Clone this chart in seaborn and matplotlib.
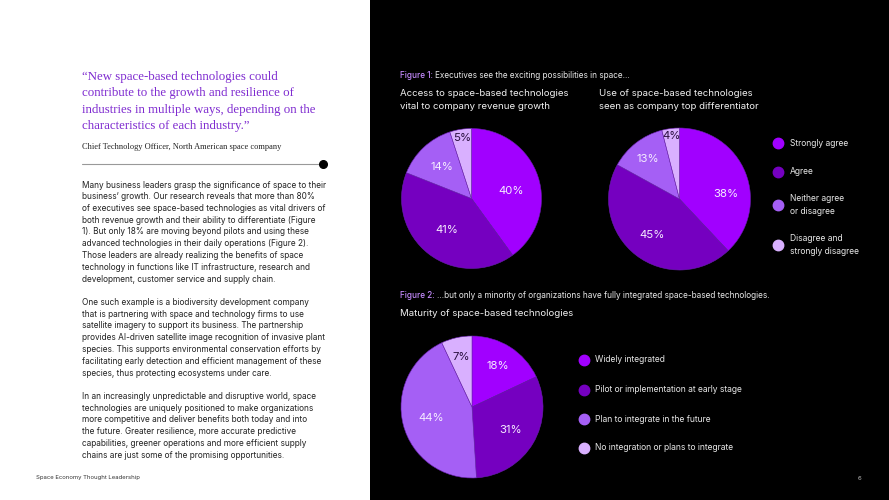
import matplotlib
matplotlib.use("Agg")
import matplotlib.pyplot as plt
import seaborn as sns
import numpy as np

# ---------------- data ----------------
fig1_categories = ["Strongly agree", "Agree", "Neither agree\nor disagree",
                   "Disagree and\nstrongly disagree"]
revenue_values = [40, 41, 14, 5]
differentiator_values = [38, 45, 13, 4]

fig2_categories = ["Widely integrated", "Pilot or implementation at early stage",
                   "Plan to integrate in the future",
                   "No integration or plans to integrate"]
maturity_values = [18, 31, 44, 7]

quote_lines = ["\u201cNew space-based technologies could",
               "contribute to the growth and resilience of",
               "industries in multiple ways, depending on the",
               "characteristics of each industry.\u201d"]
quote_author = "Chief Technology Officer, North American space company"

body_paragraphs = [
    ["Many business leaders grasp the significance of space to their",
     "business\u2019 growth. Our research reveals that more than 80%",
     "of executives see space-based technologies as vital drivers of",
     "both revenue growth and their ability to differentiate (Figure",
     "1). But only 18% are moving beyond pilots and using these",
     "advanced technologies in their daily operations (Figure 2).",
     "Those leaders are already realizing the benefits of space",
     "technology in functions like IT infrastructure, research and",
     "development, customer service and supply chain."],
    ["One such example is a biodiversity development company",
     "that is partnering with space and technology firms to use",
     "satellite imagery to support its business. The partnership",
     "provides AI-driven satellite image recognition of invasive plant",
     "species. This supports environmental conservation efforts by",
     "facilitating early detection and efficient management of these",
     "species, thus protecting ecosystems under care."],
    ["In an increasingly unpredictable and disruptive world, space",
     "technologies are uniquely positioned to make organizations",
     "more competitive and deliver benefits both today and into",
     "the future. Greater resilience, more accurate predictive",
     "capabilities, greener operations and more efficient supply",
     "chains are just some of the promising opportunities."],
]

# ---------------- style ----------------
sns.set_theme(style="white")
plt.rcParams["font.family"] = ["Inter", "DejaVu Sans"]
palette = sns.color_palette(["#A100FF", "#7500C0", "#A55FF5", "#D9B0FF"])

W, H = 889, 500
fig = plt.figure(figsize=(W / 100, H / 100), dpi=100)
fig.patch.set_facecolor("white")
renderer = fig.canvas.get_renderer()


def fx(x):
    return x / W


def fy(y):
    return 1 - y / H


# black right panel
bg = fig.add_axes([fx(370), 0, 1 - fx(370), 1])
bg.set_facecolor("black")
bg.set_xticks([]); bg.set_yticks([])
for s in bg.spines.values():
    s.set_visible(False)

# ---------------- left column ----------------
serif = ["Liberation Serif", "DejaVu Serif"]
for i, line in enumerate(quote_lines):
    fig.text(fx(82), fy(77 + i * 16.4), line, fontsize=9.3, color="#7F2BD0",
             family=serif, va="center", ha="left")
fig.text(fx(82), fy(147), quote_author, fontsize=6.0, color="#222222",
         family=serif, va="center", ha="left")
fig.add_artist(plt.Line2D([fx(82), fx(323)], [fy(164), fy(164)],
                          color="#999999", lw=0.8, transform=fig.transFigure))
fig.add_artist(plt.Line2D([fx(323)], [fy(164)], marker="o", markersize=5.5,
                          color="black", transform=fig.transFigure))

y = 185
for para in body_paragraphs:
    for line in para:
        fig.text(fx(82), fy(y), line, fontsize=5.95, color="#222222",
                 va="center", ha="left")
        y += 11.75
    y += 11.75

fig.text(fx(36), fy(478), "Space Economy Thought Leadership", fontsize=4.3,
         color="#333333", va="center", ha="left")
fig.text(fx(858), fy(478), "6", fontsize=4.3, color="#bbbbbb",
         va="center", ha="left")


# ---------------- right column texts ----------------
def caption(x0, y0, label, rest):
    t = fig.text(fx(x0), fy(y0), label, fontsize=5.9, color="#C58BFF",
                 va="center", ha="left", weight="medium")
    bb = t.get_window_extent(renderer=renderer)
    fig.text(bb.x1 / W + 2.5 / W, fy(y0), rest, fontsize=5.9,
             color="#e8e8e8", va="center", ha="left")


caption(400, 75, "Figure 1:", "Executives see the exciting possibilities in space...")
for x0, lines in [(400, ["Access to space-based technologies",
                         "vital to company revenue growth"]),
                  (599, ["Use of space-based technologies",
                         "seen as company top differentiator"])]:
    for i, line in enumerate(lines):
        fig.text(fx(x0), fy(94 + i * 12.5), line, fontsize=6.95,
                 color="#f0f0f0", va="center", ha="left")

caption(400, 296, "Figure 2:",
        "...but only a minority of organizations have fully integrated space-based technologies.")
fig.text(fx(400), fy(314), "Maturity of space-based technologies", fontsize=6.95,
         color="#f0f0f0", va="center", ha="left")


# ---------------- pies ----------------
def draw_pie(cx, cy, r, values, dists, shifts):
    ax = fig.add_axes([fx(cx - r), fy(cy + r), 2 * r / W, 2 * r / H])
    ax.set_facecolor("none")
    wedges, _ = ax.pie(values, colors=palette, startangle=90,
                       counterclock=False, radius=1,
                       wedgeprops=dict(linewidth=0.4, edgecolor="#6a20b0"))
    ax.set_xlim(-1, 1); ax.set_ylim(-1, 1)
    ax.set_aspect("equal")
    ax.axis("off")
    for i, (w, v) in enumerate(zip(wedges, values)):
        ang = np.deg2rad((w.theta1 + w.theta2) / 2 + shifts[i])
        d = dists[i]
        col = "#2a0f3f" if i == 3 else "#f5ecff"
        ax.text(d * np.cos(ang), d * np.sin(ang), f"{v}%", fontsize=8.2,
                color=col, ha="center", va="center")


draw_pie(471.5, 198.5, 70, revenue_values, [0.58, 0.57, 0.61, 0.87], [-8, 0, 0, 0])
draw_pie(679.5, 199, 71, differentiator_values, [0.66, 0.64, 0.72, 0.9], [-15, 0, 0, 0])
draw_pie(472, 407, 71, maturity_values, [0.69, 0.64, 0.6, 0.72], [0, 0, 0, 0])

# ---------------- legends ----------------
leg1_y = [143, 172, 205, 245]
for cat, col, yy in zip(fig1_categories, palette, leg1_y):
    fig.add_artist(plt.Line2D([fx(778)], [fy(yy)], marker="o", markersize=7.5,
                              color=col, transform=fig.transFigure))
    fig.text(fx(790), fy(yy), cat, fontsize=6.1, color="#e8e8e8",
             va="center", ha="left", linespacing=1.45)

leg2_y = [360, 390, 419, 448]
for cat, col, yy in zip(fig2_categories, palette, leg2_y):
    fig.add_artist(plt.Line2D([fx(584)], [fy(yy)], marker="o", markersize=7.5,
                              color=col, transform=fig.transFigure))
    fig.text(fx(595), fy(yy), cat, fontsize=6.1, color="#e8e8e8",
             va="center", ha="left")

fig.savefig("out.png", dpi=100, facecolor=fig.get_facecolor())
